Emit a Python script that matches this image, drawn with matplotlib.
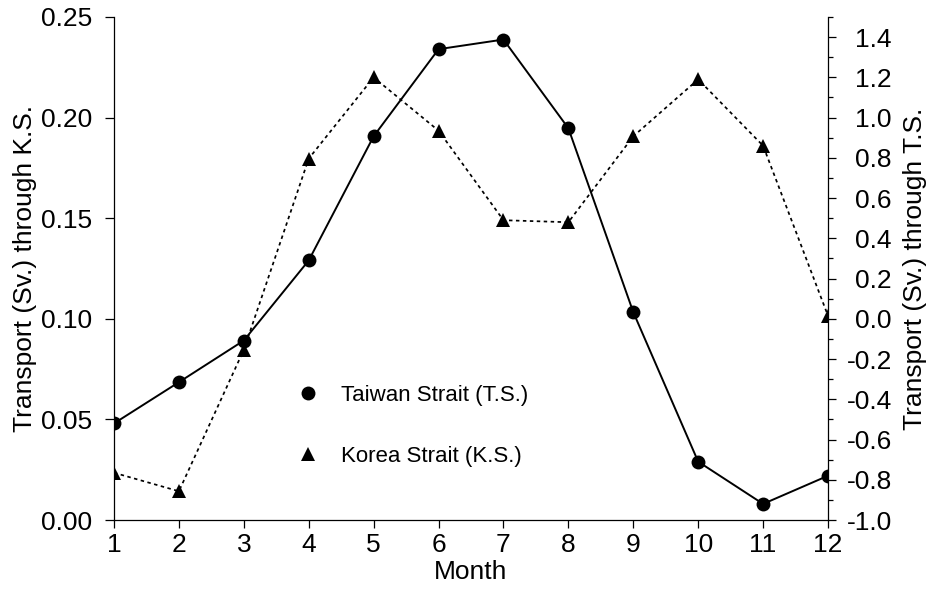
import matplotlib
matplotlib.use("Agg")
import matplotlib.pyplot as plt
from matplotlib.lines import Line2D
from matplotlib.ticker import MultipleLocator, FormatStrFormatter

plt.rcParams["font.family"] = ["Liberation Sans", "DejaVu Sans"]
plt.rcParams["axes.unicode_minus"] = False

# Monthly mean transports
months = list(range(1, 13))
taiwan_ts = [-0.52, -0.315, -0.108, 0.29, 0.907, 1.34, 1.388, 0.947, 0.033, -0.71, -0.92, -0.78]
korea_ks = [0.0235, 0.0143, 0.0846, 0.1796, 0.220, 0.1935, 0.149, 0.148, 0.1907, 0.219, 0.186, 0.1015]

left_ticks = [0.00, 0.05, 0.10, 0.15, 0.20, 0.25]
label_ts = "Taiwan Strait (T.S.)"
label_ks = "Korea Strait (K.S.)"

fig = plt.figure(figsize=(9.39, 5.92), dpi=100)
ax = fig.add_axes([0.1214, 0.1216, 0.7604, 0.8497])
ax2 = ax.twinx()

# Korea Strait on the left axis, dotted with triangles
ax.plot(months, korea_ks, color="black", lw=1.25, linestyle=(0, (2.0, 2.0)),
        marker="^", markersize=9.5, markeredgewidth=0, zorder=3)
# Taiwan Strait on the right axis, solid with circles
ax2.plot(months, taiwan_ts, color="black", lw=1.4, linestyle="-",
         marker="o", markersize=10, markeredgewidth=0, zorder=3)

ax.set_xlim(1, 12)
ax.set_ylim(0, 0.25)
ax2.set_ylim(-1.0, 1.5)

ax.set_xticks(months)
ax.set_yticks(left_ticks)
ax.yaxis.set_major_formatter(FormatStrFormatter("%.2f"))
ax2.yaxis.set_minor_locator(MultipleLocator(0.1))
ax2.yaxis.set_major_formatter(FormatStrFormatter("%.1f"))
ax2.set_yticks([v / 10 for v in range(-10, 15, 2)])

for a in (ax, ax2):
    a.spines["top"].set_visible(False)
    for s in a.spines.values():
        s.set_linewidth(0.9)
ax.spines["right"].set_visible(False)
ax2.spines["left"].set_visible(False)
ax2.spines["bottom"].set_visible(False)

ax.tick_params(axis="x", direction="out", length=6, width=0.9, labelsize=19, pad=3.5)
ax.tick_params(axis="y", direction="out", length=6.5, width=0.9, labelsize=19, pad=9)
ax2.tick_params(axis="y", which="major", direction="out", length=6, width=0.9,
                labelsize=19, pad=40)
ax2.tick_params(axis="y", which="minor", direction="out", length=3.5, width=0.9)
for t in ax2.get_yticklabels():
    t.set_horizontalalignment("right")

ax.set_xlabel("Month", fontsize=19, labelpad=2)
ax.set_ylabel("Transport (Sv.) through K.S.", fontsize=19, labelpad=3)
ax2.set_ylabel("Transport (Sv.) through T.S.", fontsize=19, labelpad=8)

handles = [
    Line2D([], [], color="black", linestyle="none", marker="o", markersize=10, markeredgewidth=0),
    Line2D([], [], color="black", linestyle="none", marker="^", markersize=9.5, markeredgewidth=0),
]
ax.legend(handles, [label_ts, label_ks], loc="upper left",
          bbox_to_anchor=(0.316, 0.350), bbox_transform=fig.transFigure,
          frameon=False, fontsize=16, handlelength=1.0, handletextpad=1.0,
          labelspacing=1.82, borderpad=0, borderaxespad=0)

fig.savefig("out.png", dpi=100)
